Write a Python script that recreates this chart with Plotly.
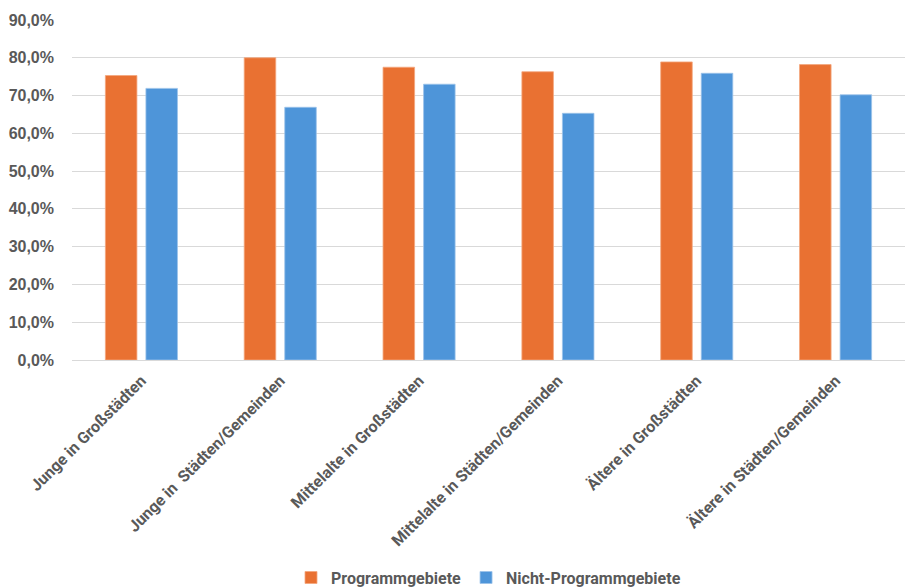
import plotly.graph_objects as go

categories = [
    "Junge in Großstädten",
    "Junge in  Städten/Gemeinden",
    "Mittelalte in Großstädten",
    "Mittelalte in Städten/Gemeinden",
    "Ältere in Großstädten",
    "Ältere in Städten/Gemeinden",
]
programmgebiete = [75.3, 80.0, 77.5, 76.3, 78.9, 78.2]
nicht_programmgebiete = [71.9, 66.9, 73.0, 65.3, 75.9, 70.2]
y_ticks = [0, 10, 20, 30, 40, 50, 60, 70, 80, 90]
y_ticktext = [f"{v:.1f}".replace(".", ",") + "%" for v in y_ticks]

label_font = "Roboto, Liberation Sans, sans-serif"
grey = "#595959"

fig = go.Figure()
fig.add_trace(go.Bar(
    name="Programmgebiete", x=categories, y=programmgebiete,
    marker=dict(color="#E97132", line=dict(color="#F4A77E", width=0.8)),
))
fig.add_trace(go.Bar(
    name="Nicht-Programmgebiete", x=categories, y=nicht_programmgebiete,
    marker=dict(color="#4E95D9", line=dict(color="#9CC3EA", width=0.8)),
))

fig.update_layout(
    width=907, height=588,
    margin=dict(l=72, r=2, t=20, b=228, autoexpand=False),
    paper_bgcolor="white", plot_bgcolor="white",
    barmode="group", bargap=0.416, bargroupgap=0.222,
    showlegend=True,
    legend=dict(
        orientation="h", x=0.5, xanchor="center", y=-0.64, yanchor="middle",
        font=dict(family=label_font, size=16, color=grey, weight="bold"),
        itemwidth=30, traceorder="normal",
    ),
    xaxis=dict(
        tickangle=-45, showgrid=False, showline=True, linecolor="#D9D9D9", linewidth=1.3,
        tickfont=dict(family=label_font, size=16, color=grey, weight="bold"),
        ticks="", automargin=False, ticklabelstandoff=4,
    ),
    yaxis=dict(
        range=[0, 90], tickvals=y_ticks, ticktext=y_ticktext,
        showgrid=True, gridcolor="#D9D9D9", gridwidth=1.3, zeroline=False,
        showline=False, ticks="", ticklabelstandoff=17, automargin=False,
        tickfont=dict(family="Liberation Sans, Arial, sans-serif", size=16, color=grey, weight="bold"),
    ),
)

fig.write_html("out.html")
